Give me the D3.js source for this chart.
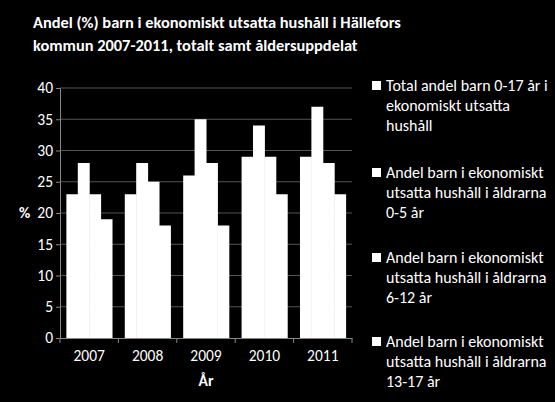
<!DOCTYPE html>
<html><head><meta charset="utf-8">
<script src="https://cdn.jsdelivr.net/npm/d3@7"></script>
<style>body{margin:0;background:#000}</style></head>
<body><svg id="c" width="555" height="402"></svg>
<script>
const years = ["2007","2008","2009","2010","2011"];
const seriesNames = [
  ["Total andel barn 0-17 år i","ekonomiskt utsatta","hushåll"],
  ["Andel barn i ekonomiskt","utsatta hushåll i åldrarna","0-5 år"],
  ["Andel barn i ekonomiskt","utsatta hushåll i åldrarna","6-12 år"],
  ["Andel barn i ekonomiskt","utsatta hushåll i åldrarna","13-17 år"]
];
const total = [23,23,26,29,29];
const age0_5 = [28,28,35,34,37];
const age6_12 = [23,25,28,29,28];
const age13_17 = [19,18,18,23,23];
const yTicks = [0,5,10,15,20,25,30,35,40];
const series = [total, age0_5, age6_12, age13_17];

const svg = d3.select("#c");
svg.append("rect").attr("width",555).attr("height",402).attr("fill","#000");
const font = "Calibri, Carlito, 'Open Sans', sans-serif";
svg.append("text").attr("x",33).attr("y",28).attr("fill","#fff").attr("font-family",font)
  .attr("font-weight","bold").attr("font-size",16.4).text("Andel (%) barn i ekonomiskt utsatta hushåll i Hällefors");
svg.append("text").attr("x",33).attr("y",51).attr("fill","#fff").attr("font-family",font)
  .attr("font-weight","bold").attr("font-size",16.4).text("kommun 2007-2011, totalt samt åldersuppdelat");

const x = d3.scaleBand().domain(years).range([60,352]);
const y = d3.scaleLinear().domain([0,40]).range([338,88]);
const xs = d3.scaleBand().domain(d3.range(4)).range([0,x.bandwidth()]).paddingOuter(0.56);

const g = svg.append("g");
g.selectAll(".grid").data(yTicks.slice(1)).join("line").attr("x1",60).attr("x2",352)
  .attr("y1",d=>y(d)).attr("y2",d=>y(d)).attr("stroke","#555").attr("stroke-width",1);

series.forEach((s,i)=>{
  g.selectAll(".b"+i).data(s).join("rect")
   .attr("x",(d,j)=>x(years[j])+xs(i)).attr("width",xs.bandwidth()+0.5)
   .attr("y",d=>y(d)).attr("height",d=>y(0)-y(d)).attr("fill","#fff");
});

const ya = svg.append("g").attr("transform","translate(60,0)")
  .call(d3.axisLeft(y).tickValues(yTicks).tickSize(4));
const xa = svg.append("g").attr("transform","translate(0,338)")
  .call(d3.axisBottom(x).tickSize(0));
xa.selectAll(".tick").append("line").attr("x1",-x.bandwidth()/2).attr("x2",-x.bandwidth()/2).attr("y2",5).attr("stroke","#888");
xa.append("line").attr("x1",352).attr("x2",352).attr("y2",5).attr("stroke","#888");
[ya,xa].forEach(a=>{
  a.selectAll("path,line").attr("stroke","#888");
  a.selectAll("text").attr("fill","#fff").attr("font-family",font).attr("font-size",15.5);
});
xa.selectAll(".tick text").attr("dy","1.3em");
svg.append("text").attr("x",19).attr("y",218).attr("fill","#fff").attr("font-family",font)
  .attr("font-weight","bold").attr("font-size",15.5).text("%");
svg.append("text").attr("x",206).attr("y",386).attr("fill","#fff").attr("font-family",font)
  .attr("font-weight","bold").attr("font-size",15.5).attr("text-anchor","middle").text("År");

const ly = [91,178,263,347];
seriesNames.forEach((lines,i)=>{
  svg.append("rect").attr("x",372).attr("y",ly[i]-10).attr("width",9).attr("height",9).attr("fill","#fff");
  lines.forEach((t,k)=>svg.append("text").attr("x",386).attr("y",ly[i]+k*20).attr("fill","#fff")
    .attr("font-family",font).attr("font-size",16).text(t));
});
</script></body></html>
